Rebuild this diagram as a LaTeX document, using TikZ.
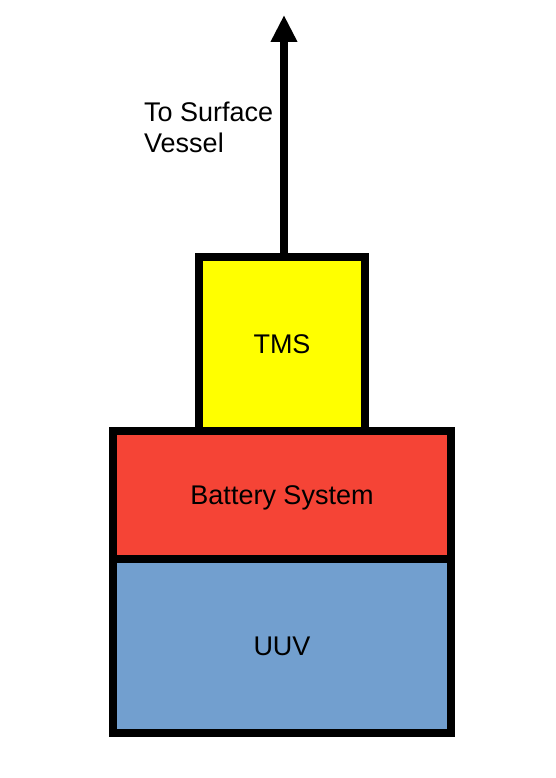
\documentclass[tikz,border=0pt]{standalone}
\usepackage{fontspec}
\setmainfont{Liberation Sans}
\usetikzlibrary{arrows.meta}
\definecolor{tmsyellow}{HTML}{FFFF00}
\definecolor{batred}{HTML}{F54436}
\definecolor{uuvblue}{HTML}{729FCF}
\begin{document}
\begin{tikzpicture}[x=1pt,y=-1pt,
  block/.style={draw=black,line width=8pt,inner sep=0pt,text depth=0pt,font=\fontsize{27}{32}\selectfont}]
\useasboundingbox (0,0) rectangle (555,778);
\node[block,fill=tmsyellow,minimum width=166pt,minimum height=174pt] (tms) at (282,344) {TMS};
\node[block,fill=batred,minimum width=338pt,minimum height=128pt] (battery) at (282,495) {Battery System};
\node[block,fill=uuvblue,minimum width=338pt,minimum height=174pt] (uuv) at (282,646) {UUV};
\coordinate (vessel) at (284,15);
\draw[line width=8pt,-{Triangle[length=27pt,width=25pt]}] ([xshift=2pt]tms.north) -- (vessel);
\node[anchor=north west,inner sep=0pt,align=left,font=\fontsize{27}{31}\selectfont] (label) at (144,102) {To Surface\\Vessel};
\end{tikzpicture}
\end{document}
